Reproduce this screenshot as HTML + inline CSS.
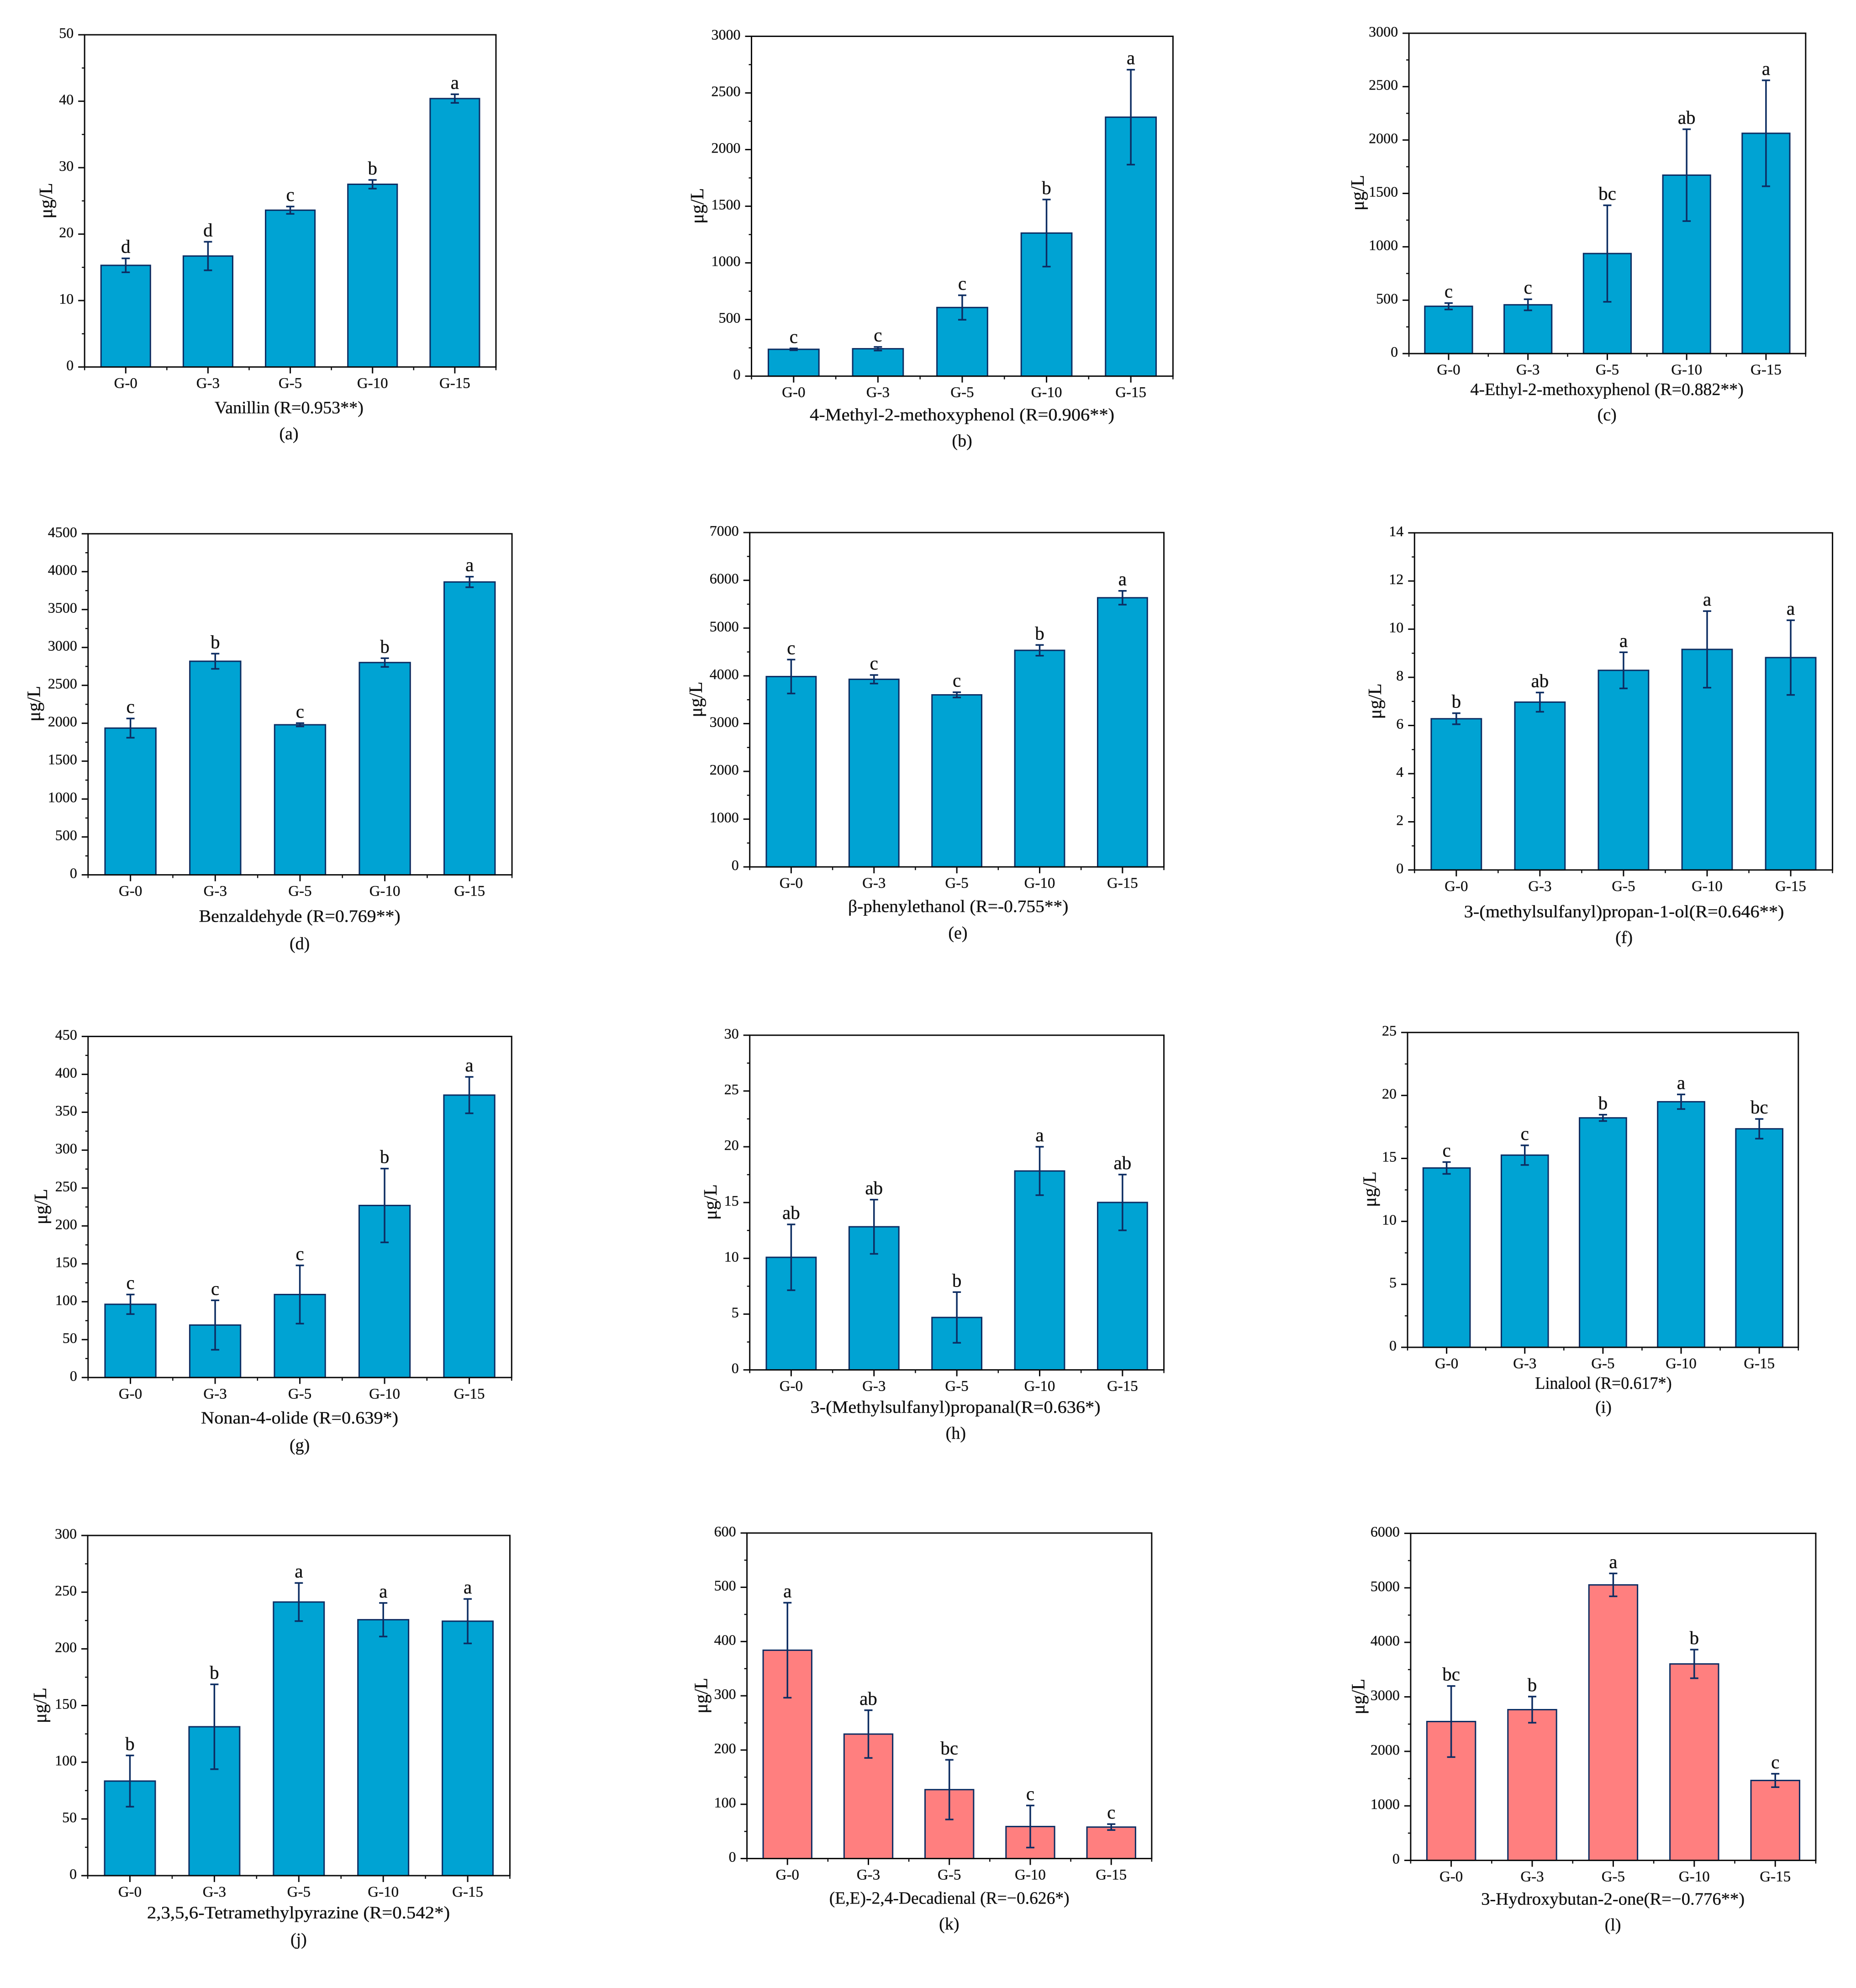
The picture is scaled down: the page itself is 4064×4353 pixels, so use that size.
<!DOCTYPE html>
<html lang="en">
<head>
<meta charset="utf-8">
<title>Aroma compound concentrations by group</title>
<style>
  html, body { margin: 0; padding: 0; background: #ffffff; }
  svg { display: block; }
  text { font-family: "Liberation Serif", "DejaVu Serif", serif; fill: #111111; stroke: #111111; stroke-width: 0.35px; }
</style>
</head>
<body>
<svg id="figure" xmlns="http://www.w3.org/2000/svg" width="4064" height="4353" viewBox="0 0 4064 4353"></svg>
<script>
const categories = ['G-0', 'G-3', 'G-5', 'G-10', 'G-15'];

const valuesA = [15.3, 16.7, 23.6, 27.5, 40.4];
const errorsA = [1.05, 2.15, 0.55, 0.65, 0.65];
const lettersA = ['d', 'd', 'c', 'b', 'a'];
const yTicksA = [0, 10, 20, 30, 40, 50];

const valuesB = [237, 242, 606, 1263, 2286];
const errorsB = [8, 16, 108, 296, 419];
const lettersB = ['c', 'c', 'c', 'b', 'a'];
const yTicksB = [0, 500, 1000, 1500, 2000, 2500, 3000];

const valuesC = [443, 457, 937, 1671, 2063];
const errorsC = [30, 52, 452, 430, 496];
const lettersC = ['c', 'c', 'bc', 'ab', 'a'];
const yTicksC = [0, 500, 1000, 1500, 2000, 2500, 3000];

const valuesD = [1936, 2818, 1980, 2801, 3864];
const errorsD = [127, 100, 22, 57, 70];
const lettersD = ['c', 'b', 'c', 'b', 'a'];
const yTicksD = [0, 500, 1000, 1500, 2000, 2500, 3000, 3500, 4000, 4500];

const valuesE = [3985, 3928, 3602, 4534, 5635];
const errorsE = [355, 90, 55, 112, 145];
const lettersE = ['c', 'c', 'c', 'b', 'a'];
const yTicksE = [0, 1000, 2000, 3000, 4000, 5000, 6000, 7000];

const valuesF = [6.28, 6.97, 8.29, 9.16, 8.82];
const errorsF = [0.23, 0.4, 0.75, 1.59, 1.55];
const lettersF = ['b', 'ab', 'a', 'a', 'a'];
const yTicksF = [0, 2, 4, 6, 8, 10, 12, 14];

const valuesG = [96.6, 69.2, 109.5, 227, 372.6];
const errorsG = [12.9, 32.6, 38.4, 48.7, 24];
const lettersG = ['c', 'c', 'c', 'b', 'a'];
const yTicksG = [0, 50, 100, 150, 200, 250, 300, 350, 400, 450];

const valuesH = [10.09, 12.83, 4.7, 17.83, 15.01];
const errorsH = [2.95, 2.43, 2.27, 2.17, 2.5];
const lettersH = ['ab', 'ab', 'b', 'a', 'ab'];
const yTicksH = [0, 5, 10, 15, 20, 25, 30];

const valuesI = [14.24, 15.26, 18.22, 19.5, 17.35];
const errorsI = [0.47, 0.78, 0.25, 0.58, 0.78];
const lettersI = ['c', 'c', 'b', 'a', 'bc'];
const yTicksI = [0, 5, 10, 15, 20, 25];

const valuesJ = [83.4, 131.3, 241.3, 225.7, 224.4];
const errorsJ = [22.6, 37.4, 16.8, 14.8, 19.6];
const lettersJ = ['b', 'b', 'a', 'a', 'a'];
const yTicksJ = [0, 50, 100, 150, 200, 250, 300];

const valuesK = [384, 229.4, 127, 59, 58];
const errorsK = [87.5, 44, 55, 38.8, 5.5];
const lettersK = ['a', 'ab', 'bc', 'c', 'c'];
const yTicksK = [0, 100, 200, 300, 400, 500, 600];

const valuesL = [2547, 2765, 5054, 3604, 1466];
const errorsL = [652, 240, 210, 263, 123];
const lettersL = ['bc', 'b', 'a', 'b', 'c'];
const yTicksL = [0, 1000, 2000, 3000, 4000, 5000, 6000];

const SX = 1.31;
const SY = 1.497;
const SHIFT = 2;
const BLUE = '#00a3d3';
const RED = '#ff7f7f';
const NAVY = '#0d2d62';
const AXIS = '#0c0c0c';

const panels = [
  { id: 'a', title: 'Vanillin (R=0.953**)', values: valuesA, errors: errorsA, letters: lettersA, ticks: yTicksA, fill: BLUE,
    ox: 0, oy: 0, l: 240, r: 1420, t: 111, b: 1200, yx: 147, yy: 655, tl: 613, tr: 1040, ty: 1352, cx: 826, cy: 1437 },
  { id: 'b', title: '4-Methyl-2-methoxyphenol (R=0.906**)', values: valuesB, errors: errorsB, letters: lettersB, ticks: yTicksB, fill: BLUE,
    ox: 1400, oy: 0, l: 319, r: 1528, t: 116, b: 1230, yx: 181, yy: 672, tl: 486, tr: 1360, ty: 1375, cx: 923, cy: 1460 },
  { id: 'c', title: '4-Ethyl-2-methoxyphenol (R=0.882**)', values: valuesC, errors: errorsC, letters: lettersC, ticks: yTicksC, fill: BLUE,
    ox: 2864, oy: 0, l: 287, r: 1425, t: 106, b: 1156, yx: 157, yy: 629, tl: 463, tr: 1247, ty: 1292, cx: 855, cy: 1375 },
  { id: 'd', title: 'Benzaldehyde (R=0.769**)', values: valuesD, errors: errorsD, letters: lettersD, ticks: yTicksD, fill: BLUE,
    ox: 0, oy: 1120, l: 250, r: 1466, t: 70, b: 1188, yx: 112, yy: 627, tl: 568, tr: 1146, ty: 1342, cx: 857, cy: 1432 },
  { id: 'e', title: '\u03b2-phenylethanol (R=-0.755**)', values: valuesE, errors: errorsE, letters: lettersE, ticks: yTicksE, fill: BLUE,
    ox: 1400, oy: 1120, l: 314, r: 1502, t: 66, b: 1162, yx: 177, yy: 613, tl: 596, tr: 1228, ty: 1310, cx: 911, cy: 1397 },
  { id: 'f', title: '3-(methylsulfanyl)propan-1-ol(R=0.646**)', values: valuesF, errors: errorsF, letters: lettersF, ticks: yTicksF, fill: BLUE,
    ox: 2864, oy: 1120, l: 303, r: 1502, t: 67, b: 1172, yx: 207, yy: 619, tl: 445, tr: 1363, ty: 1327, cx: 904, cy: 1412 },
  { id: 'g', title: 'Nonan-4-olide (R=0.639*)', values: valuesG, errors: errorsG, letters: lettersG, ticks: yTicksG, fill: BLUE,
    ox: 0, oy: 2220, l: 250, r: 1465, t: 71, b: 1189, yx: 132, yy: 629, tl: 574, tr: 1140, ty: 1340, cx: 857, cy: 1430 },
  { id: 'h', title: '3-(Methylsulfanyl)propanal(R=0.636*)', values: valuesH, errors: errorsH, letters: lettersH, ticks: yTicksH, fill: BLUE,
    ox: 1400, oy: 2220, l: 314, r: 1502, t: 67, b: 1164, yx: 219, yy: 614, tl: 488, tr: 1320, ty: 1305, cx: 905, cy: 1390 },
  { id: 'i', title: 'Linalool (R=0.617*)', values: valuesI, errors: errorsI, letters: lettersI, ticks: yTicksI, fill: BLUE,
    ox: 2864, oy: 2220, l: 283, r: 1404, t: 58, b: 1090, yx: 192, yy: 572, tl: 649, tr: 1041, ty: 1226, cx: 845, cy: 1305 },
  { id: 'j', title: '2,3,5,6-Tetramethylpyrazine (R=0.542*)', values: valuesJ, errors: errorsJ, letters: lettersJ, ticks: yTicksJ, fill: BLUE,
    ox: 0, oy: 3300, l: 249, r: 1460, t: 90, b: 1205, yx: 130, yy: 647, tl: 419, tr: 1288, ty: 1345, cx: 854, cy: 1433 },
  { id: 'k', title: '(E,E)-2,4-Decadienal (R=\u22120.626*)', values: valuesK, errors: errorsK, letters: lettersK, ticks: yTicksK, fill: RED,
    ox: 1400, oy: 3300, l: 306, r: 1467, t: 82, b: 1149, yx: 192, yy: 615, tl: 542, tr: 1231, ty: 1297, cx: 886, cy: 1382 },
  { id: 'l', title: '3-Hydroxybutan-2-one(R=\u22120.776**)', values: valuesL, errors: errorsL, letters: lettersL, ticks: yTicksL, fill: RED,
    ox: 2864, oy: 3300, l: 292, r: 1454, t: 83, b: 1155, yx: 159, yy: 618, tl: 494, tr: 1250, ty: 1300, cx: 872, cy: 1385 }
];

const NS = 'http://www.w3.org/2000/svg';
const root = document.getElementById('figure');

function make(tag, attrs, parent, content) {
  const el = document.createElementNS(NS, tag);
  for (const k in attrs) el.setAttribute(k, attrs[k]);
  if (content !== undefined) el.textContent = content;
  parent.appendChild(el);
  return el;
}

function drawPanel(p) {
  const X = z => p.ox + z / SX + SHIFT;
  const Y = z => p.oy + z / SY + SHIFT;
  const left = X(p.l), right = X(p.r), top = Y(p.t), bottom = Y(p.b);
  const yMax = p.ticks[p.ticks.length - 1];
  const yScale = v => bottom - (v / yMax) * (bottom - top);
  const step = (right - left) / categories.length;
  const xScale = i => left + step * (i + 0.5);

  const g = make('g', {}, root);
  
  

  p.values.forEach((v, i) => {
    const w = step * 0.6;
    const bar = make('rect', {
      x: xScale(i) - w / 2, y: yScale(v), width: w, height: bottom - yScale(v),
      fill: p.fill, stroke: NAVY, 'stroke-width': 3
    }, g);
    
    
  });

  p.values.forEach((v, i) => {
    const cx = xScale(i);
    const hi = yScale(v + p.errors[i]);
    const lo = yScale(v - p.errors[i]);
    const err = make('path', {
      d: 'M' + cx + ' ' + lo + 'V' + hi + 'M' + (cx - 9) + ' ' + hi + 'H' + (cx + 9) + 'M' + (cx - 9) + ' ' + lo + 'H' + (cx + 9),
      fill: 'none', stroke: NAVY, 'stroke-width': 3.5
    }, g);
    
    

    const letter = make('text', {
      x: cx, y: hi - 12, 'text-anchor': 'middle', 'font-size': 41
    }, g, p.letters[i]);
    
    
  });

  const frame = make('rect', {
    x: left, y: top, width: right - left, height: bottom - top,
    fill: 'none', stroke: AXIS, 'stroke-width': 3
  }, g);
  
  

  p.ticks.forEach((t, i) => {
    const y = yScale(t);
    const tick = make('line', { x1: left - 14, x2: left, y1: y, y2: y, stroke: AXIS, 'stroke-width': 3 }, g);
    
    
    const label = make('text', { x: left - 24, y: y + 7, 'text-anchor': 'end', 'font-size': 32 }, g, String(t));
    
    
    if (i < p.ticks.length - 1) {
      const my = yScale((t + p.ticks[i + 1]) / 2);
      const minor = make('line', { x1: left - 6, x2: left, y1: my, y2: my, stroke: AXIS, 'stroke-width': 2.5 }, g);
      
      
    }
  });

  categories.forEach((c, i) => {
    const x = xScale(i);
    const tick = make('line', { x1: x, x2: x, y1: bottom, y2: bottom + 14, stroke: AXIS, 'stroke-width': 3 }, g);
    
    
    const label = make('text', { x: x, y: bottom + 46, 'text-anchor': 'middle', 'font-size': 33 }, g, c);
    
    
  });
  for (let i = 0; i <= categories.length; i++) {
    const x = left + step * i;
    const minor = make('line', { x1: x, x2: x, y1: bottom, y2: bottom + 7, stroke: AXIS, 'stroke-width': 2.5 }, g);
    
    
  }

  const yTitle = make('text', {
    x: X(p.yx), y: Y(p.yy), 'text-anchor': 'middle', 'font-size': 41,
    transform: 'rotate(-90 ' + X(p.yx) + ' ' + Y(p.yy) + ')',
    textLength: 78, lengthAdjust: 'spacingAndGlyphs'
  }, g, '\u03bcg/L');
  
  

  const xTitle = make('text', {
    x: X(p.tl), y: Y(p.ty), 'font-size': 38,
    textLength: (p.tr - p.tl) / SX, lengthAdjust: 'spacingAndGlyphs'
  }, g, p.title);
  
  

  const caption = make('text', {
    x: X(p.cx), y: Y(p.cy), 'text-anchor': 'middle', 'font-size': 38
  }, g, '(' + p.id + ')');
  
  
}

panels.forEach(drawPanel);
</script>
</body>
</html>
